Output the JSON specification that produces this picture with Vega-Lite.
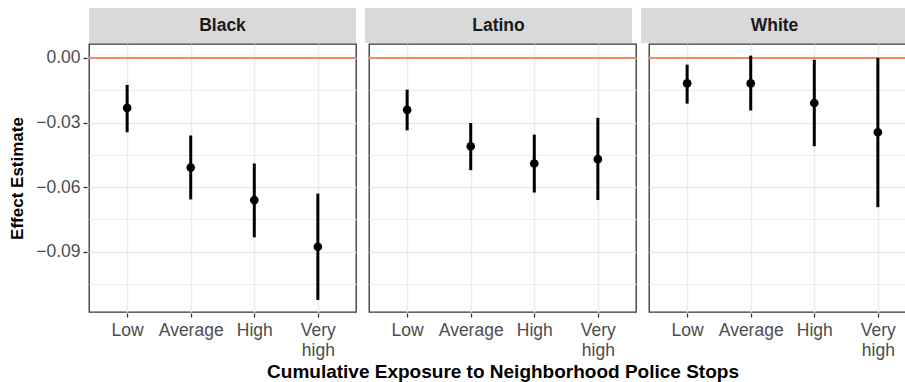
{
  "$schema": "https://vega.github.io/schema/vega-lite/v6.json",
  "padding": {"top": 8, "left": 8, "right": 0, "bottom": 0},
  "spacing": 0,
  "background": "white",
  "config": {
    "font": "Liberation Sans",
    "view": {"stroke": "#333333", "strokeWidth": 1.3},
    "axis": {
      "domain": false,
      "gridColor": "#EBEBEB",
      "tickColor": "#333333",
      "tickSize": 4,
      "tickWidth": 1.3,
      "labelColor": "#4D4D4D",
      "labelFontSize": 17.5,
      "labelPadding": 3,
      "titleColor": "#000000",
      "titleFontSize": 17,
      "titleFontWeight": "bold"
    }
  },
  "datasets": {
    "groups": [{"group": "Black"}, {"group": "Latino"}, {"group": "White"}],
    "est": [
      {"group": "Black", "exposure": "Low", "est": -0.0232, "lo": -0.0345, "hi": -0.0125},
      {"group": "Black", "exposure": "Average", "est": -0.0509, "lo": -0.0657, "hi": -0.036},
      {"group": "Black", "exposure": "High", "est": -0.066, "lo": -0.0833, "hi": -0.049},
      {"group": "Black", "exposure": "Very high", "est": -0.0877, "lo": -0.1124, "hi": -0.063},
      {"group": "Latino", "exposure": "Low", "est": -0.0241, "lo": -0.0336, "hi": -0.0147},
      {"group": "Latino", "exposure": "Average", "est": -0.041, "lo": -0.0521, "hi": -0.0302},
      {"group": "Latino", "exposure": "High", "est": -0.049, "lo": -0.0625, "hi": -0.0356},
      {"group": "Latino", "exposure": "Very high", "est": -0.047, "lo": -0.066, "hi": -0.0278},
      {"group": "White", "exposure": "Low", "est": -0.0118, "lo": -0.0212, "hi": -0.0031},
      {"group": "White", "exposure": "Average", "est": -0.0118, "lo": -0.0244, "hi": 0.0011},
      {"group": "White", "exposure": "High", "est": -0.0209, "lo": -0.041, "hi": -0.0008},
      {"group": "White", "exposure": "Very high", "est": -0.0345, "lo": -0.0693, "hi": 0.0}
    ]
  },
  "vconcat": [
    {
      "data": {"name": "groups"},
      "spacing": 9,
      "facet": {
        "column": {"field": "group", "type": "nominal", "sort": ["Black", "Latino", "White"], "header": {"title": null, "labels": false}}
      },
      "spec": {
        "width": 267,
        "height": 35,
        "view": {"stroke": null},
        "layer": [
          {
            "mark": {"type": "rect", "color": "#D9D9D9"},
            "encoding": {
              "x": {"datum": 0, "type": "quantitative", "scale": {"domain": [0, 1]}, "axis": null},
              "x2": {"datum": 1}
            }
          },
          {
            "mark": {"type": "text", "fontWeight": "bold", "fontSize": 17.5, "color": "#1A1A1A"},
            "encoding": {
              "x": {"datum": 0.5, "type": "quantitative", "scale": {"domain": [0, 1]}, "axis": null},
              "text": {"field": "group"}
            }
          }
        ]
      }
    },
    {
      "data": {"name": "est"},
      "spacing": 9,
      "facet": {
        "column": {
          "field": "group", "type": "nominal", "sort": ["Black", "Latino", "White"],
          "header": {"title": "Cumulative Exposure to Neighborhood Police Stops", "titleOrient": "bottom", "labels": false, "titleFontSize": 19, "titleFontWeight": "bold", "titleColor": "#000000", "titlePadding": -6}
        }
      },
      "spec": {
        "width": 267,
        "height": 268,
        "resolve": {"axis": {"y": "independent"}},
        "layer": [
          {
            "mark": {"type": "rule", "color": "#F2896C", "strokeWidth": 2},
            "encoding": {
              "y": {
                "datum": 0, "type": "quantitative",
                "scale": {"domain": [-0.118, 0.0065], "nice": false, "zero": false},
                "axis": {"orient": "left", "title": null, "labels": false, "ticks": false, "grid": true, "gridWidth": 1, "values": [-0.105, -0.075, -0.045, -0.015]}
              }
            }
          },
          {
            "mark": {"type": "rule", "color": "black", "strokeWidth": 3},
            "encoding": {
              "x": {
                "field": "exposure", "type": "ordinal", "sort": ["Low", "Average", "High", "Very high"],
                "scale": {"type": "point", "padding": 0.6},
                "axis": {"title": null, "labelAngle": 0, "grid": true, "gridWidth": 1.5, "labelPadding": 4, "labelLineHeight": 20, "labelExpr": "datum.value == 'Very high' ? ['Very', 'high'] : datum.label"}
              },
              "y": {
                "field": "lo", "type": "quantitative",
                "axis": {"orient": "left", "title": "Effect Estimate", "titlePadding": 9, "grid": true, "gridWidth": 1.5, "values": [-0.09, -0.06, -0.03, 0], "format": ".2f"}
              },
              "y2": {"field": "hi"}
            }
          },
          {
            "mark": {"type": "circle", "color": "black", "opacity": 1, "size": 75},
            "encoding": {
              "x": {"field": "exposure", "type": "ordinal", "sort": ["Low", "Average", "High", "Very high"]},
              "y": {"field": "est", "type": "quantitative", "axis": null}
            }
          }
        ]
      }
    }
  ]
}
